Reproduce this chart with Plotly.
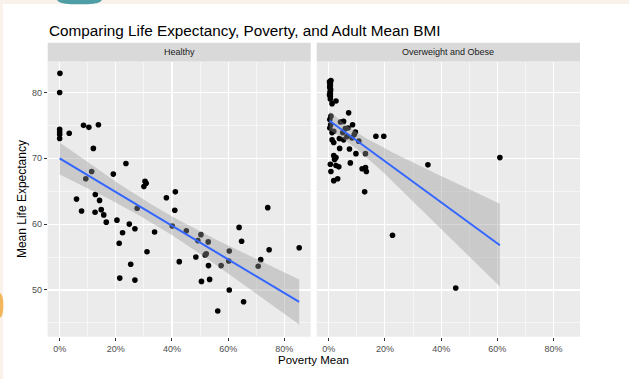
import numpy as np
import plotly.graph_objects as go

W, H = 629, 379

title = "Comparing Life Expectancy, Poverty, and Adult Mean BMI"
panel_names = ["Healthy", "Overweight and Obese"]
x_title = "Poverty Mean"
y_title = "Mean Life Expectancy"
x_ticks = [0, 0.2, 0.4, 0.6, 0.8]
y_ticks = [50, 60, 70, 80]

healthy_x = [0.001, 0.0, 0.0, 0.0, 0.0, 0.0, 0.034, 0.085, 0.104, 0.138,
             0.120, 0.236, 0.191, 0.114, 0.093, 0.304, 0.308, 0.300, 0.380, 0.412,
             0.060, 0.078, 0.127, 0.142, 0.148, 0.126, 0.157, 0.166, 0.204, 0.248,
             0.268, 0.224, 0.212, 0.311, 0.338, 0.276, 0.410, 0.401, 0.451, 0.503,
             0.492, 0.529, 0.426, 0.485, 0.522, 0.518, 0.530, 0.575, 0.604, 0.602,
             0.639, 0.648, 0.741, 0.746, 0.716, 0.707, 0.853, 0.214, 0.268, 0.253,
             0.505, 0.534, 0.604, 0.655, 0.563]
healthy_y = [82.9, 80.0, 74.4, 74.0, 73.6, 73.0, 73.8, 75.0, 74.7, 75.1,
             71.5, 69.2, 67.6, 68.0, 66.9, 66.5, 66.2, 65.7, 64.0, 64.9,
             63.8, 62.0, 64.5, 63.6, 62.2, 61.8, 61.4, 60.3, 60.6, 60.0,
             59.3, 58.7, 57.1, 55.8, 58.8, 62.4, 62.1, 59.7, 59.0, 58.4,
             57.5, 57.3, 54.3, 55.0, 55.5, 55.3, 53.7, 53.7, 55.9, 54.4,
             59.5, 57.4, 62.5, 56.1, 54.6, 53.6, 56.4, 51.8, 51.5, 53.9,
             51.3, 51.6, 50.0, 48.2, 46.8]

obese_x = [0.006, 0.006, 0.006, 0.006, 0.006, 0.006, 0.006, 0.006,
           0.003, 0.005, 0.004, 0.007, 0.005, 0.003, 0.008, 0.004,
           0.026, 0.012, 0.008, 0.004, 0.071, 0.042, 0.053, 0.085,
           0.007, 0.004, 0.018, 0.012, 0.059, 0.069, 0.095, 0.091,
           0.050, 0.065, 0.083, 0.053, 0.038, 0.107, 0.168, 0.196,
           0.012, 0.018, 0.039, 0.074, 0.097, 0.131, 0.018, 0.026,
           0.021, 0.006, 0.026, 0.036, 0.077, 0.008, 0.119, 0.131,
           0.134, 0.018, 0.032, 0.128, 0.353, 0.609, 0.227, 0.452]
obese_y = [81.7, 81.4, 81.0, 80.6, 80.2, 79.8, 79.4, 79.0,
           81.6, 81.2, 80.9, 80.4, 80.0, 79.6, 81.8, 80.8,
           78.7, 78.3, 76.4, 75.9, 76.9, 75.5, 75.6, 75.1,
           75.1, 74.6, 74.1, 73.9, 74.5, 74.6, 74.0, 73.6,
           73.9, 73.3, 73.1, 72.8, 73.0, 72.6, 73.35, 73.35,
           72.8, 72.4, 71.5, 71.4, 70.7, 70.7, 70.4, 70.1,
           69.8, 69.1, 68.9, 68.7, 69.3, 68.0, 68.4, 68.6,
           68.0, 66.6, 66.9, 64.9, 69.0, 70.1, 58.3, 50.3]


def t975(df):
    z = 1.959964
    return z + (z**3 + z) / (4 * df) + (5 * z**5 + 16 * z**3 + 3 * z) / (96 * df**2)


def lm_fit(x, y, n=80):
    x = np.asarray(x, float)
    y = np.asarray(y, float)
    b1, b0 = np.polyfit(x, y, 1)
    res = y - (b0 + b1 * x)
    dof = len(x) - 2
    s = np.sqrt(np.sum(res**2) / dof)
    xm = x.mean()
    sxx = np.sum((x - xm) ** 2)
    xs = np.linspace(x.min(), x.max(), n)
    yh = b0 + b1 * xs
    se = s * np.sqrt(1 / len(x) + (xs - xm) ** 2 / sxx)
    t = t975(dof)
    return xs, yh, yh - t * se, yh + t * se


FONT = "Liberation Sans, Arial, Helvetica, sans-serif"

fig = go.Figure()
groups = [(healthy_x, healthy_y, "x", "y"), (obese_x, obese_y, "x2", "y2")]
for gx, gy, xa, ya in groups:
    fig.add_trace(go.Scatter(x=gx, y=gy, mode="markers", xaxis=xa, yaxis=ya,
                             marker=dict(color="black", size=5.6, line=dict(width=0)),
                             showlegend=False, hoverinfo="skip"))
    xs, yh, lo, hi = lm_fit(gx, gy)
    fig.add_trace(go.Scatter(x=np.concatenate([xs, xs[::-1]]),
                             y=np.concatenate([hi, lo[::-1]]),
                             mode="lines", fill="toself", xaxis=xa, yaxis=ya,
                             fillcolor="rgba(153,153,153,0.4)", line=dict(width=0),
                             showlegend=False, hoverinfo="skip"))
    fig.add_trace(go.Scatter(x=xs, y=yh, mode="lines", xaxis=xa, yaxis=ya,
                             line=dict(color="#3366FF", width=2),
                             showlegend=False, hoverinfo="skip"))


def px_x(v):
    return v / W


def px_y(v):
    return 1 - v / H


def px_path(points):
    parts = []
    for cmd, pts in points:
        coords = " ".join(f"{px_x(a):.5f},{px_y(b):.5f}" for a, b in pts)
        parts.append(f"{cmd} {coords}")
    return " ".join(parts) + " Z"


p1 = (47.7, 310.7)
p2 = (316.7, 580.0)
ptop, pbot = 61.5, 336.7
strip_top = 42.7

xr = [-0.0426, 0.894]
yr = [42.9, 84.7]

axis_common = dict(showgrid=True, gridcolor="white", gridwidth=1.1, zeroline=False,
                   ticks="outside", ticklen=3, tickwidth=1, tickcolor="#333333",
                   tickfont=dict(size=9, color="#4d4d4d", family=FONT), showline=False)

xcommon = dict(axis_common, range=xr, tickvals=x_ticks,
               ticktext=[f"{int(round(v*100))}%" for v in x_ticks],
               minor=dict(tickvals=[0.1, 0.3, 0.5, 0.7], showgrid=True,
                          gridcolor="white", gridwidth=0.55, ticks=""))
ycommon = dict(axis_common, range=yr, tickvals=y_ticks,
               minor=dict(tickvals=[45, 55, 65, 75], showgrid=True,
                          gridcolor="white", gridwidth=0.55, ticks=""))

fig.update_layout(
    width=W, height=H,
    margin=dict(l=0, r=0, t=0, b=0),
    paper_bgcolor="white",
    plot_bgcolor="#ebebeb",
    font=dict(family=FONT),
    hovermode=False,
    xaxis=dict(xcommon, domain=[px_x(p1[0]), px_x(p1[1])], anchor="y"),
    xaxis2=dict(xcommon, domain=[px_x(p2[0]), px_x(p2[1])], anchor="y2"),
    yaxis=dict(ycommon, domain=[px_y(pbot), px_y(ptop)], anchor="x"),
    yaxis2=dict(ycommon, domain=[px_y(pbot), px_y(ptop)], anchor="x2",
                showticklabels=False, ticks=""),
)

shapes = []
# page background around the card
shapes.append(dict(type="rect", xref="paper", yref="paper", x0=0, x1=1,
                   y0=px_y(4), y1=1, fillcolor="#f8f2ea", line=dict(width=0), layer="below"))
shapes.append(dict(type="rect", xref="paper", yref="paper", x0=0, x1=px_x(3),
                   y0=0, y1=1, fillcolor="#f8f2ea", line=dict(width=0), layer="below"))
teal = px_path([("M", [(57, 0)]), ("L", [(102, 0)]),
                ("Q", [(100, 4), (88, 4.2)]), ("L", [(71, 4.2)]),
                ("Q", [(59, 4), (57, 0)])])
shapes.append(dict(type="path", xref="paper", yref="paper", path=teal,
                   fillcolor="#4f9ea6", line=dict(width=0), layer="below"))
orange = px_path([("M", [(0, 293)]), ("Q", [(3.4, 295), (3.4, 305.5)]),
                  ("Q", [(3.4, 316), (0, 318)])])
shapes.append(dict(type="path", xref="paper", yref="paper", path=orange,
                   fillcolor="#f2b65c", line=dict(width=0), layer="below"))
# facet strips
for (a, b) in (p1, p2):
    shapes.append(dict(type="rect", xref="paper", yref="paper", x0=px_x(a), x1=px_x(b),
                       y0=px_y(ptop), y1=px_y(strip_top), fillcolor="#d9d9d9",
                       line=dict(width=0), layer="below"))

annotations = []
for name, (a, b) in zip(panel_names, (p1, p2)):
    annotations.append(dict(text=name, xref="paper", yref="paper", x=px_x((a + b) / 2),
                            y=px_y((ptop + strip_top) / 2), showarrow=False,
                            xanchor="center", yanchor="middle",
                            font=dict(size=9, color="#1a1a1a", family=FONT)))
annotations.append(dict(text=title, xref="paper", yref="paper", x=px_x(46.5), y=px_y(30),
                        showarrow=False, xanchor="left", yanchor="middle",
                        font=dict(size=15.3, color="black", family=FONT)))
annotations.append(dict(text=x_title, xref="paper", yref="paper", x=px_x((p1[0] + p2[1]) / 2),
                        y=px_y(360), showarrow=False, xanchor="center", yanchor="middle",
                        font=dict(size=11.5, color="black", family=FONT)))
annotations.append(dict(text=y_title, xref="paper", yref="paper", x=px_x(22),
                        y=px_y((ptop + pbot) / 2), showarrow=False, textangle=-90,
                        xanchor="center", yanchor="middle",
                        font=dict(size=12, color="black", family=FONT)))

fig.update_layout(shapes=shapes, annotations=annotations)

fig.write_html("out.html", config={"displayModeBar": False, "staticPlot": True},
               post_script="document.body.style.margin='0';document.body.style.padding='0';")
